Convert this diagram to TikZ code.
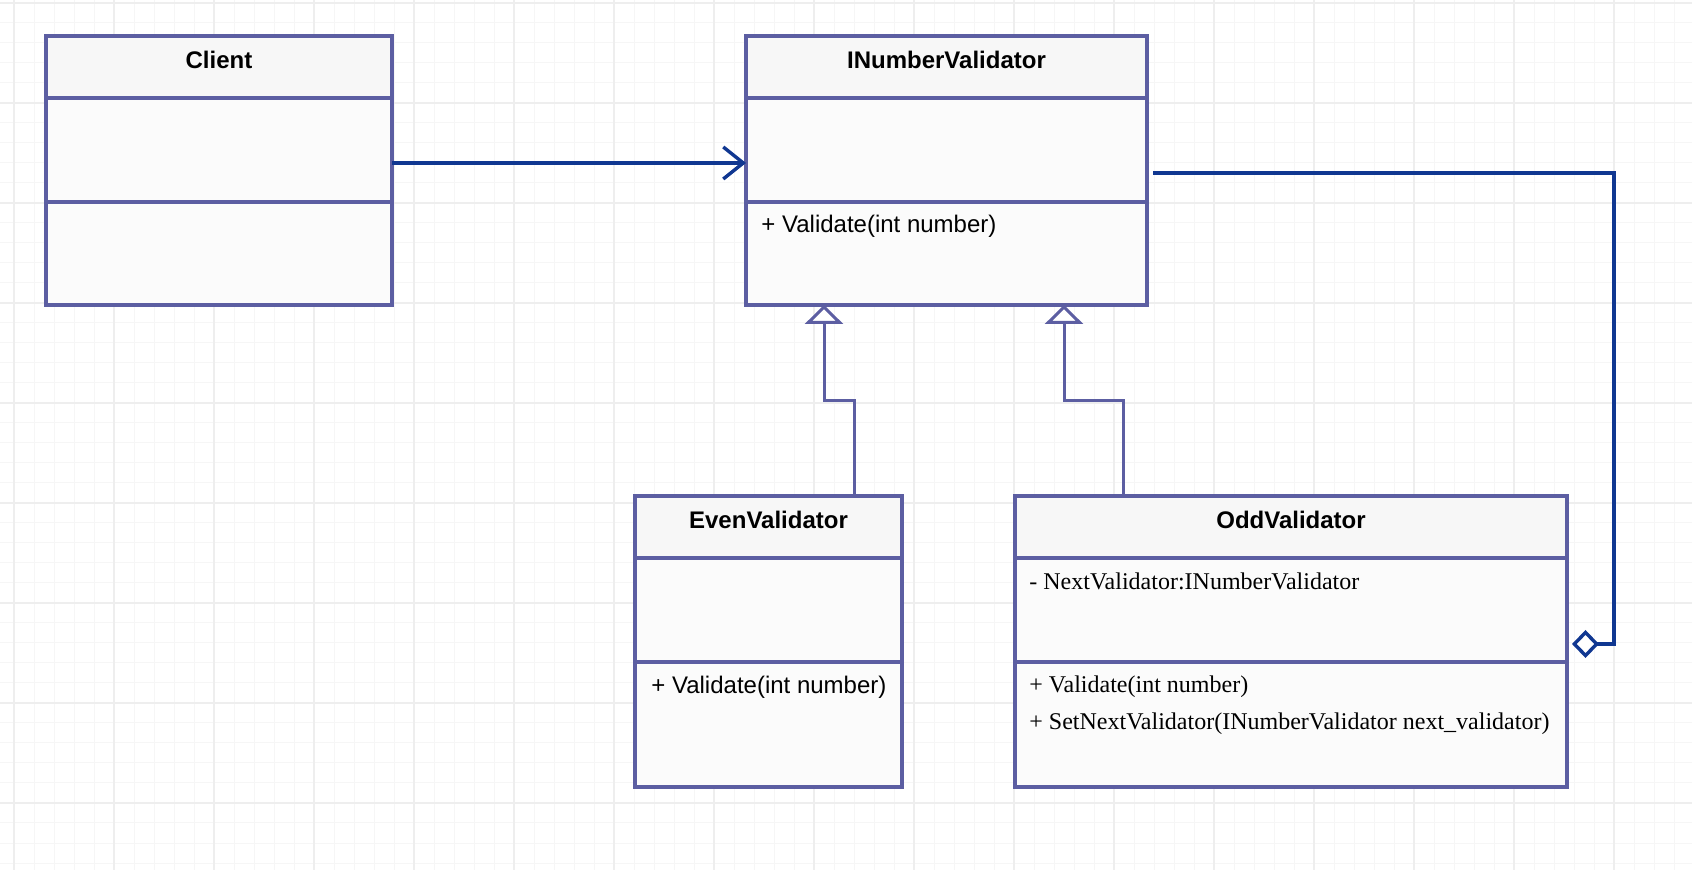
\documentclass[tikz,border=0pt]{standalone}
\usepackage{fontspec}
\setmainfont{Liberation Sans}
\newfontfamily\timesfont{Liberation Serif}
\usetikzlibrary{positioning,calc,arrows.meta}

\definecolor{umlline}{RGB}{92,94,162}
\definecolor{linkblue}{RGB}{16,55,145}
\definecolor{headfill}{RGB}{247,247,247}
\definecolor{bodyfill}{RGB}{251,251,251}
\definecolor{gridminor}{RGB}{246,246,246}
\definecolor{gridmajor}{RGB}{238,238,238}

\tikzset{
  classhead/.style={draw=umlline, fill=headfill, line width=1.6pt, outer sep=0pt, inner sep=0pt, anchor=north west, minimum height=31pt},
  classpart/.style={draw=umlline, fill=bodyfill, line width=1.6pt, outer sep=0pt, inner sep=0pt},
  classname/.style={font=\fontsize{12}{14}\selectfont\bfseries, anchor=base, inner sep=0pt, yshift=-1pt},
  member/.style={font=\fontsize{12}{14}\selectfont, anchor=base west, inner sep=0pt},
  oddmember/.style={font=\fontsize{12}{14}\selectfont\timesfont, anchor=base west, inner sep=0pt},
  uses/.style={draw=linkblue, line width=1.7pt, -{Straight Barb[length=10pt,width=16pt]}},
  holds/.style={draw=linkblue, line width=1.7pt, -{Diamond[length=13.5pt,width=14pt,fill=white]}},
  extends/.style={draw=umlline, line width=1.5pt, -{Triangle[length=9.5pt,width=19pt,fill=white]}}
}

\begin{document}
\begin{tikzpicture}[x=0.5pt,y=-0.5pt]
    \useasboundingbox (0,0) rectangle (1692,870);
    \fill[white] (0,0) rectangle (1692,870);
    % grid
    \foreach \i in {0,...,83} \draw[gridminor, line width=0.5pt] (14+20*\i,0) -- (14+20*\i,870);
    \foreach \i in {0,...,43} \draw[gridminor, line width=0.5pt] (0,3+20*\i) -- (1692,3+20*\i);
    \foreach \i in {0,...,16} \draw[gridmajor, line width=0.6pt] (14+100*\i,0) -- (14+100*\i,870);
    \foreach \i in {0,...,8} \draw[gridmajor, line width=0.6pt] (0,3+100*\i) -- (1692,3+100*\i);

    % Client
    \node[classhead, minimum width=173pt] (client) at (46,36) {};
    \node[classpart, minimum width=173pt, minimum height=52pt, below=0pt of client] (client attr) {};
    \node[classpart, minimum width=173pt, minimum height=51.5pt, below=0pt of client attr] (client ops) {};
    \node[classname] at (client.center) {Client};

    % INumberValidator
    \node[classhead, minimum width=200.5pt] (inv) at (746,36) {};
    \node[classpart, minimum width=200.5pt, minimum height=52pt, below=0pt of inv] (inv attr) {};
    \node[classpart, minimum width=200.5pt, minimum height=51.5pt, below=0pt of inv attr] (inv ops) {};
    \node[classname] at (inv.center) {INumberValidator};
    \node[member] at ($(inv ops.north west)+(15,31)$) {+ Validate(int number)};

    % EvenValidator
    \node[classhead, minimum width=133.5pt] (even) at (635,496) {};
    \node[classpart, minimum width=133.5pt, minimum height=52pt, below=0pt of even] (even attr) {};
    \node[classpart, minimum width=133.5pt, minimum height=62.5pt, below=0pt of even attr] (even ops) {};
    \node[classname] at (even.center) {EvenValidator};
    \node[member] at ($(even ops.north west)+(16,32)$) {+ Validate(int number)};

    % OddValidator
    \node[classhead, minimum width=276pt] (odd) at (1015,496) {};
    \node[classpart, minimum width=276pt, minimum height=52pt, below=0pt of odd] (odd attr) {};
    \node[classpart, minimum width=276pt, minimum height=62.5pt, below=0pt of odd attr] (odd ops) {};
    \node[classname] at (odd.center) {OddValidator};
    \node[oddmember] at ($(odd attr.north west)+(14,32)$) {- NextValidator:INumberValidator};
    \node[oddmember] at ($(odd ops.north west)+(14,31)$) {+ Validate(int number)};
    \node[oddmember] at ($(odd ops.north west)+(14,68)$) {+ SetNextValidator(INumberValidator next\_validator)};

    % links
    \draw[uses] ($(client attr.east)+(0,13)$) -- ($(inv attr.west)+(0,13)$);
    \draw[holds] ($(inv attr.east)+(6,23)$) -| ($(odd attr.east)+(47,34)$) -- ($(odd attr.east)+(5,34)$);
    \draw[extends] ($(even.north)+(86,0)$) -- ++(0,-95) -| ($(inv ops.south)+(-122.5,0)$);
    \draw[extends] ($(odd.north)+(-167.5,0)$) -- ++(0,-95) -| ($(inv ops.south)+(117.5,0)$);
\end{tikzpicture}
\end{document}
